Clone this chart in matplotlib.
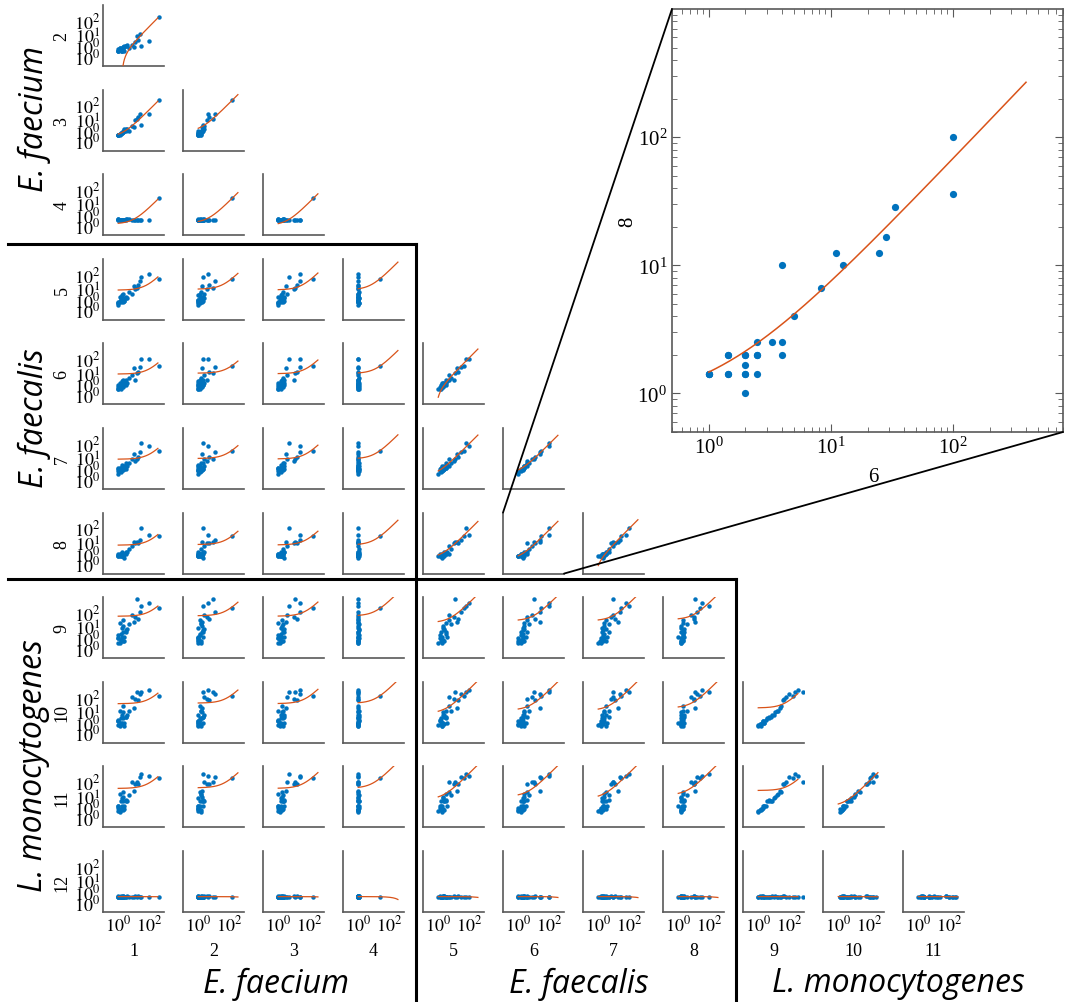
import numpy as np
import matplotlib.pyplot as plt
from matplotlib.lines import Line2D
from matplotlib.patches import ConnectionPatch

plt.rcParams['font.family'] = ['Liberation Serif', 'DejaVu Serif']
plt.rcParams['mathtext.fontset'] = 'stix'

# ---- data: 30 samples, 12 variables (1-4 E. faecium, 5-8 E. faecalis, 9-11 L. monocytogenes, 12)
v1 = [1, 1.43, 1, 1.25, 2, 1.43, 1, 2.5, 1.67, 2, 1, 3.33, 1.43, 2, 2.5,
      1.25, 4, 1.67, 2, 3.33, 12.5, 5, 8.33, 16.7, 20, 10, 25, 450, 100, 33.3]
v2 = [1, 1.25, 1, 1.43, 1.67, 1, 1.25, 2, 1, 1.43, 1, 2, 1.25, 1.67, 1,
      1.43, 2.5, 1, 1.25, 2, 4, 1.43, 2.5, 10, 5, 1.67, 12.5, 170, 4.4, 2]
v3 = [1, 1.43, 1, 1.25, 2, 1.25, 1, 2.5, 1.43, 1.67, 1, 2, 1.43, 1.67, 2,
      1, 2.5, 1.43, 1.67, 2.5, 10, 2, 4, 12.5, 16.7, 3.33, 25, 200, 25, 5]
v4 = [1, 1, 1.1, 1, 1, 1, 1.1, 1, 1, 1, 1, 1.1, 1, 1, 1,
      1, 1.1, 1, 1, 1, 1, 1.1, 1, 1, 1, 1, 1, 27, 1, 1]
v5 = [1, 1.43, 1.25, 1.67, 1.43, 2, 1.25, 1.67, 2, 2.5, 1.43, 2.5, 3.33, 2, 1.67,
      3.33, 2.5, 4, 5, 3.33, 10, 6.67, 5, 12.5, 20, 16.7, 33.3, 50, 100, 66.7]
v6 = [1, 1, 1, 1.43, 1.43, 1.43, 1.43, 2, 2, 2, 2, 2, 2, 2.5, 2.5,
      2.5, 2.5, 3.33, 4, 4, 4, 5, 8.33, 11.1, 12.5, 25, 28.6, 33.3, 100, 100]
v7 = [1, 1.25, 1.43, 1.43, 1.67, 1.67, 2, 2, 1.67, 2, 2.5, 2, 2.5, 2.5, 3.33,
      2.5, 3.33, 4, 3.33, 5, 6.67, 5, 10, 10, 12.5, 20, 25, 33.3, 66.7, 100]
v8 = [1.43, 1.43, 1.43, 1.43, 1.43, 2, 2, 1, 1.43, 1.43, 1.67, 2, 2, 1.43, 2,
      2, 2.5, 2.5, 2, 2.5, 10, 4, 6.67, 12.5, 10, 12.5, 16.7, 28.6, 35.7, 100]
v9 = [1, 1.43, 2, 1, 5, 1.67, 3.33, 2.5, 10, 1.25, 2, 6.67, 4, 12.5, 1.43,
      20, 8.33, 2.5, 33.3, 5, 50, 16.7, 66.7, 800, 40, 25, 100, 190, 400, 250]
v10 = [1.43, 1.67, 2.5, 1.25, 4, 2, 3.33, 2, 6.67, 1.67, 2.5, 5, 4, 10, 1.25,
       12.5, 6.67, 2, 25, 5, 80, 12.5, 100, 200, 66.7, 20, 150, 125, 300, 200]
v11 = [1.25, 1.43, 2, 1, 5, 1.67, 2.5, 2.5, 8.33, 1.43, 2.5, 5, 5, 10, 1.67,
       16.7, 5, 2.5, 20, 6.67, 66.7, 12.5, 100, 100, 66.7, 25, 200, 166, 250, 300]
v12 = [1, 1, 1.1, 1, 1, 1.1, 1, 1, 1, 1.1, 1, 1, 1, 1.1, 1,
       1, 1.1, 1, 1, 1, 1.1, 1, 1, 1, 1.1, 1, 1, 1, 1, 1]
data = [v1, v2, v3, v4, v5, v6, v7, v8, v9, v10, v11, v12]

ytick_vals = [10**-0.35, 10**0.35, 10, 100]
ytick_labels = ['$10^0$', '$10^0$', '$10^1$', '$10^2$']

blue = '#0072BD'
orange = '#D95319'
spine_col = '0.35'

W, H = 1067, 1003
fig = plt.figure(figsize=(W / 100, H / 100), dpi=100)


def px(l, t, w, h):
    return [l / W, 1 - (t + h) / H, w / W, h / H]


def fit_line(ax, x, y, lw):
    x = np.asarray(x, float)
    y = np.asarray(y, float)
    b, a = np.polyfit(x, y, 1)
    xs = np.logspace(0, 2.6, 600)
    ys = a + b * xs
    ys = np.where(ys > 0, ys, np.nan)
    ax.plot(xs, ys, color=orange, lw=lw, zorder=3)


small = {}
for r in range(2, 13):
    top = 6 + 84.6 * (r - 2)
    for c in range(1, r):
        ax = fig.add_axes(px(103 + 80 * (c - 1), top, 61, 61))
        x, y = data[c - 1], data[r - 1]
        ax.plot(x, y, 'o', ms=3.2, color=blue, mec='none', zorder=2)
        fit_line(ax, x, y, 0.9)
        ax.set_xscale('log')
        ax.set_yscale('log')
        ax.set_xlim(0.1, 1000)
        ax.set_ylim(0.1, 1000)
        for s in ['top', 'right']:
            ax.spines[s].set_visible(False)
        for s in ['left', 'bottom']:
            ax.spines[s].set_color(spine_col)
            ax.spines[s].set_linewidth(1.2)
        ax.minorticks_off()
        ax.tick_params(length=0, labelsize=13, pad=2)
        ax.set_xticks([1, 100])
        ax.set_xticklabels(['$10^0$', '$10^2$'] if r == 12 else [])
        ax.set_yticks(ytick_vals)
        ax.set_yticklabels(ytick_labels if c == 1 else [])
        small[(r, c)] = ax
    fig.text(62 / W, 1 - (top + 30.5) / H, str(r), rotation=90,
             ha='center', va='center', fontsize=13)

for c in range(1, 12):
    fig.text((103 + 80 * (c - 1) + 30.5) / W, 1 - 952 / H, str(c),
             ha='center', va='center', fontsize=13)

# ---- enlarged panel: 6 vs 8
big = fig.add_axes(px(672, 10, 391, 423))
big.plot(v6, v8, 'o', ms=5.2, color=blue, mec='none', zorder=2)
fit_line(big, v6, v8, 1.1)
big.set_xscale('log')
big.set_yscale('log')
big.set_xlim(0.5, 800)
big.set_ylim(0.5, 1000)
big.set_xticks([1, 10, 100])
big.set_yticks([1, 10, 100])
for s in big.spines.values():
    s.set_color(spine_col)
    s.set_linewidth(1.2)
big.tick_params(which='both', direction='in', top=True, right=True,
                color=spine_col, labelsize=15)
big.tick_params(which='major', length=6)
big.tick_params(which='minor', length=3.5)
fig.text(628 / W, 1 - 222 / H, '8', rotation=90, ha='center', va='center', fontsize=15)
fig.text(873 / W, 1 - 478 / H, '6', ha='center', va='center', fontsize=15)

src = small[(8, 6)]
for pa, pb in [((0, 1), (0, 1)), ((1, 0), (1, 0))]:
    con = ConnectionPatch(xyA=pa, coordsA='axes fraction', axesA=src,
                          xyB=pb, coordsB='axes fraction', axesB=big,
                          color='black', lw=1.3)
    fig.add_artist(con)

# ---- group boxes
for xs, ys in [([8, 416], [245, 245]), ([416, 416], [245, 1003]),
               ([8, 736], [580, 580]), ([736, 736], [580, 1003])]:
    fig.add_artist(Line2D([x / W for x in xs], [1 - y / H for y in ys],
                          color='black', lw=2.2, transform=fig.transFigure))

# ---- group labels
gfont = dict(family=['Open Sans', 'DejaVu Sans'], style='italic', fontsize=23,
             ha='center', va='center')
fig.text(276 / W, 1 - 984 / H, 'E. faecium', **gfont)
fig.text(579 / W, 1 - 984 / H, 'E. faecalis', **gfont)
fig.text(898 / W, 1 - 984 / H, 'L. monocytogenes', **gfont)
fig.text(34 / W, 1 - 119 / H, 'E. faecium', rotation=90, **gfont)
fig.text(34 / W, 1 - 418 / H, 'E. faecalis', rotation=90, **gfont)
fig.text(34 / W, 1 - 766 / H, 'L. monocytogenes', rotation=90, **gfont)

fig.savefig('out.png', dpi=100)
